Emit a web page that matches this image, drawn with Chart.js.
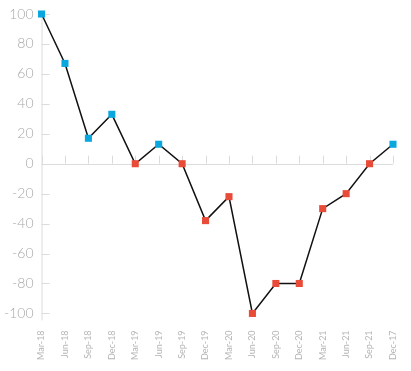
<!DOCTYPE html>
<html>
<head>
<meta charset="utf-8">
<script src="https://cdn.jsdelivr.net/npm/chart.js@4/dist/chart.umd.min.js"></script>
<style>
  html, body { margin: 0; padding: 0; background: #fff; }
  #wrap { width: 411px; height: 371px; }
</style>
</head>
<body>
<div id="wrap"><canvas id="chart"></canvas></div>
<script>
// Data
const quarters = ["Mar-18", "Jun-18", "Sep-18", "Dec-18", "Mar-19", "Jun-19", "Sep-19", "Dec-19",
  "Mar-20", "Jun-20", "Sep-20", "Dec-20", "Mar-21", "Jun-21", "Sep-21", "Dec-17"];
const values = [100, 67, 17, 33, 0, 13, 0, -38, -22, -100, -80, -80, -30, -20, 0, 13];
const yTicks = [100, 80, 60, 40, 20, 0, -20, -40, -60, -80, -100];

const BLUE = "#0aa6de";
const RED = "#e84b37";
const AXIS = "#dcdcdc";

// tick marks inside the plot + zero line, drawn from the chart's own scales
const axisMarks = {
  id: "axisMarks",
  beforeDatasetsDraw(chart) {
    const { ctx, scales: { x, y }, chartArea } = chart;
    const zero = y.getPixelForValue(0);
    ctx.save();
    ctx.strokeStyle = AXIS;
    ctx.lineWidth = 1;
    ctx.beginPath();
    // y axis line
    ctx.moveTo(chartArea.left + 0.5, chartArea.top);
    ctx.lineTo(chartArea.left + 0.5, chartArea.bottom + 7);
    // y tick marks
    yTicks.forEach((v) => {
      const py = Math.round(y.getPixelForValue(v)) + 0.5;
      ctx.moveTo(chartArea.left, py);
      ctx.lineTo(chartArea.left + 8, py);
    });
    // zero line
    ctx.moveTo(chartArea.left, Math.round(zero) + 0.5);
    ctx.lineTo(chartArea.right, Math.round(zero) + 0.5);
    // x tick marks on the zero line
    quarters.forEach((q, i) => {
      const px = Math.round(x.getPixelForValue(i)) + 0.5;
      ctx.moveTo(px, zero);
      ctx.lineTo(px, zero - 8);
    });
    ctx.stroke();
    ctx.restore();
  },
};

const ctx = document.getElementById("chart").getContext("2d");
new Chart(ctx, {
  type: "line",
  data: {
    labels: quarters,
    datasets: [
      {
        data: values,
        borderColor: "#111",
        borderWidth: 1.5,
        tension: 0,
        pointStyle: "rect",
        pointRadius: 5,
        pointBorderWidth: 0,
        pointBackgroundColor: values.map((v) => (v > 0 ? BLUE : RED)),
        pointBorderColor: values.map((v) => (v > 0 ? BLUE : RED)),
        clip: false,
      },
    ],
  },
  options: {
    responsive: true,
    maintainAspectRatio: false,
    animation: false,
    layout: { padding: { top: 14, right: 18, bottom: -6, left: -4 } },
    plugins: { legend: { display: false }, tooltip: { enabled: false } },
    scales: {
      x: {
        offset: false,
        grid: { display: false, drawTicks: false },
        border: { display: false },
        afterFit(scale) {
          scale.paddingLeft = 0;
          scale.paddingRight = 0;
        },
        ticks: {
          autoSkip: false,
          maxRotation: 90,
          minRotation: 90,
          padding: 17,
          color: "#b5b5b5",
          font: { family: "Lato, 'DejaVu Sans', sans-serif", size: 9 },
        },
      },
      y: {
        min: -100,
        max: 100,
        grid: { display: false, drawTicks: false },
        border: { display: false },
        afterBuildTicks(scale) {
          scale.ticks = yTicks.map((v) => ({ value: v }));
        },
        afterFit(scale) {
          scale.paddingTop = 0;
        },
        ticks: {
          padding: 8,
          color: "#a8a8a8",
          font: { family: "Lato, 'DejaVu Sans', sans-serif", size: 14, weight: "300" },
        },
      },
    },
  },
  plugins: [axisMarks],
});
</script>
</body>
</html>
